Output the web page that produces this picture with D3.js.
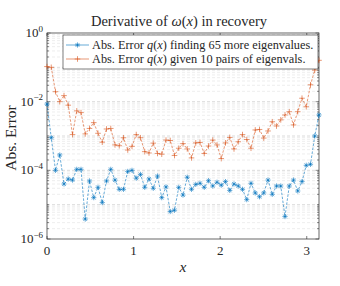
<!DOCTYPE html>
<html>
<head>
<meta charset="utf-8">
<script src="https://cdn.jsdelivr.net/npm/d3@7"></script>
<style>
  body { margin: 0; background: #fff; }
  text { font-family: "Liberation Serif", "DejaVu Serif", serif; fill: #262626; }
</style>
</head>
<body>
<div id="graph"></div>
<script>
// error of q(x) after finding 65 more eigenvalues (65 points on [0, pi])
const errFound = [
  8.5e-3, 8.9e-4, 1.0e-4, 2.8e-4, 4.0e-5, 5.6e-5, 5.2e-5, 1.07e-4, 1.07e-4, 3.8e-6,
  4.9e-5, 1.6e-5, 3.2e-5, 1.15e-5, 4.9e-5, 1.07e-4, 5.2e-5, 2.8e-5, 2.8e-5, 9.3e-5,
  1.0e-4, 5.9e-5, 7.6e-5, 3.2e-5, 5.6e-5, 3.0e-5, 6.8e-5, 1.6e-5, 3.3e-5, 6.3e-6,
  6.9e-6, 3.2e-5, 1.9e-5, 6.3e-5, 2.8e-5, 3.9e-5, 4.2e-5, 3.2e-5, 5.0e-5, 3.5e-5,
  4.5e-5, 3.7e-5, 4.7e-5, 2.6e-5, 4.0e-5, 3.5e-5, 2.8e-5, 1.4e-5, 4.2e-5, 2.2e-5,
  1.7e-5, 2.2e-5, 5.2e-5, 2.0e-5, 3.5e-5, 3.5e-5, 4.5e-6, 3.5e-5, 5.2e-5, 2.5e-5,
  4.7e-5, 1.4e-4, 1.5e-4, 1.0e-3, 4.1e-3
];

// error of q(x) given 10 pairs of eigenvalues
const errGiven = [
  1.05e-1, 1.0e-1, 1.95e-2, 1.0e-2, 1.5e-2, 7.9e-3, 1.1e-3, 5.4e-3, 4.8e-3, 1.15e-3,
  1.66e-3, 2.45e-3, 1.2e-3, 6.6e-4, 1.6e-3, 1.66e-3, 5.5e-4, 5.2e-4, 8.9e-4, 3.9e-4,
  5.0e-4, 1.1e-3, 8.9e-4, 3.5e-4, 3.2e-4, 6.2e-4, 3.1e-4, 2.95e-4, 7.6e-4, 7.4e-4,
  2.7e-4, 4.4e-4, 6.0e-4, 4.2e-4, 2.3e-4, 6.3e-4, 6.5e-4, 3.1e-4, 5.1e-4, 7.6e-4,
  5.5e-4, 2.2e-4, 6.3e-4, 9.1e-4, 4.2e-4, 6.8e-4, 1.1e-3, 7.9e-4, 4.4e-4, 1.5e-3,
  1.55e-3, 8.7e-4, 1.4e-3, 2.6e-3, 1.95e-3, 2.95e-3, 4.1e-3, 5.1e-3, 2.1e-3, 5.1e-3,
  1.26e-2, 7.1e-3, 3.1e-2, 8.3e-2, 1.6e-1
];

const xTicks = [0, 1, 2, 3];
const yTickExps = [0, -2, -4, -6];
const seriesNames = [
  "finding 65 more eigenvalues.",
  "given 10 pairs of eigenvals."
];
const seriesColors = ["#0072BD", "#D95319"];

const W = 340, H = 286;
const margin = { top: 33, right: 21, bottom: 47, left: 47 };
const width = W - margin.left - margin.right;
const height = H - margin.top - margin.bottom;

//setup and return svg
function setupSVG() {
  return d3
    .select("#graph")
    .append("svg")
    .attr("width", W)
    .attr("height", H)
    .append("g")
    .attr("transform", "translate(" + margin.left + "," + margin.top + ")");
}

function starPath(r) {
  const k = r * 0.72;
  return "M" + -r + ",0H" + r + "M0," + -r + "V" + r +
    "M" + -k + "," + -k + "L" + k + "," + k + "M" + -k + "," + k + "L" + k + "," + -k;
}
function plusPath(r) {
  return "M" + -r + ",0H" + r + "M0," + -r + "V" + r;
}

//grid lines, box, ticks and labels
function addAxes(svg, x, y) {
  const minors = [];
  for (let e = -6; e < 0; e++) {
    for (let m = 1; m < 10; m++) minors.push(m * Math.pow(10, e));
  }
  minors.push(1);

  svg
    .append("g")
    .selectAll("line")
    .data(minors.filter((v) => v > 1e-6 && v < 1))
    .enter()
    .append("line")
    .attr("x1", 0)
    .attr("x2", width)
    .attr("y1", (d) => y(d))
    .attr("y2", (d) => y(d))
    .attr("stroke", function (d) {
      const lg = Math.log10(d);
      return Math.abs(lg - Math.round(lg)) < 1e-9 ? "#c4c4c4" : "#e2e2e2";
    })
    .attr("stroke-width", 0.6)
    .attr("stroke-dasharray", "3,2");

  // box
  svg
    .append("rect")
    .attr("width", width)
    .attr("height", height)
    .attr("fill", "none")
    .attr("stroke", "#262626")
    .attr("stroke-width", 0.7);

  // x ticks (bottom and top, inward)
  const xt = svg.append("g");
  xTicks.forEach(function (t) {
    xt.append("line").attr("x1", x(t)).attr("x2", x(t)).attr("y1", height).attr("y2", height - 3)
      .attr("stroke", "#262626").attr("stroke-width", 0.6);
    xt.append("line").attr("x1", x(t)).attr("x2", x(t)).attr("y1", 0).attr("y2", 3)
      .attr("stroke", "#262626").attr("stroke-width", 0.6);
    xt.append("text").attr("x", x(t)).attr("y", height + 16)
      .attr("text-anchor", "middle").style("font-size", "13px").text(t);
  });

  // y ticks: minor on every value, major at labeled decades
  const yt = svg.append("g");
  minors.forEach(function (v) {
    const lg = Math.log10(v);
    const isMajor = Math.abs(lg - Math.round(lg)) < 1e-9 && Math.round(lg) % 2 === 0;
    const len = isMajor ? 3.5 : 2;
    yt.append("line").attr("x1", 0).attr("x2", len).attr("y1", y(v)).attr("y2", y(v))
      .attr("stroke", "#262626").attr("stroke-width", 0.5);
    yt.append("line").attr("x1", width).attr("x2", width - len).attr("y1", y(v)).attr("y2", y(v))
      .attr("stroke", "#262626").attr("stroke-width", 0.5);
  });
  yTickExps.forEach(function (e) {
    const t = yt.append("text")
      .attr("x", -4)
      .attr("y", y(Math.pow(10, e)) + 4)
      .attr("text-anchor", "end")
      .style("font-size", "13px");
    t.append("tspan").text("10");
    t.append("tspan").attr("dy", -5.5).style("font-size", "9px").text(e === 0 ? "0" : "\u2212" + -e);
  });

  // axis labels
  svg.append("text")
    .attr("x", width / 2)
    .attr("y", height + 33)
    .attr("text-anchor", "middle")
    .style("font-size", "15.5px")
    .style("font-style", "italic")
    .text("x");

  svg.append("text")
    .attr("transform", "translate(" + -31 + "," + (height / 2 + 2) + ") rotate(-90)")
    .attr("text-anchor", "middle")
    .style("font-size", "15.5px")
    .text("Abs. Error");

  const title = svg.append("text")
    .attr("x", width / 2 - 4)
    .attr("y", -7)
    .attr("text-anchor", "middle")
    .style("font-size", "14.5px");
  title.append("tspan").text("Derivative of ");
  title.append("tspan").style("font-style", "italic").text("\u03c9");
  title.append("tspan").text("(");
  title.append("tspan").style("font-style", "italic").text("x");
  title.append("tspan").text(") in recovery");
}

//draw one dashed series with markers
function addSeries(svg, values, color, marker, x, y) {
  const xs = values.map((v, i) => (i * Math.PI) / (values.length - 1));
  const line = d3
    .line()
    .x((d, i) => x(xs[i]))
    .y((d) => y(d));

  svg
    .append("path")
    .datum(values)
    .attr("d", line)
    .attr("fill", "none")
    .attr("stroke", color)
    .attr("stroke-width", 0.6)
    .attr("stroke-dasharray", "2.5,1.5");

  svg
    .append("g")
    .selectAll("path")
    .data(values)
    .enter()
    .append("path")
    .attr("transform", function (d, i) {
      return "translate(" + x(xs[i]) + "," + y(d) + ")";
    })
    .attr("d", marker)
    .attr("fill", "none")
    .attr("stroke", color)
    .attr("stroke-width", 0.6);
}

function addLegend(svg) {
  const lx = 16, ly = 2, lw = 255, lh = 34;
  const g = svg.append("g").attr("transform", "translate(" + lx + "," + ly + ")");
  g.append("rect")
    .attr("width", lw)
    .attr("height", lh)
    .attr("fill", "#fff")
    .attr("stroke", "#262626")
    .attr("stroke-width", 0.6);

  const markers = [starPath(2.6), plusPath(2.8)];
  seriesNames.forEach(function (name, i) {
    const cy = 10 + i * 14;
    g.append("line").attr("x1", 3).attr("x2", 26).attr("y1", cy).attr("y2", cy)
      .attr("stroke", seriesColors[i]).attr("stroke-width", 0.6);
    g.append("path").attr("transform", "translate(14.5," + cy + ")").attr("d", markers[i])
      .attr("fill", "none").attr("stroke", seriesColors[i]).attr("stroke-width", 0.6);
    const t = g.append("text").attr("x", 29).attr("y", cy + 4).style("font-size", "12.3px");
    t.append("tspan").text("Abs. Error ");
    t.append("tspan").style("font-style", "italic").text("q");
    t.append("tspan").text("(");
    t.append("tspan").style("font-style", "italic").text("x");
    t.append("tspan").text(") " + name);
  });
}

const svg = setupSVG();
const x = d3.scaleLinear().domain([0, Math.PI]).range([0, width]);
const y = d3.scaleLog().domain([1e-6, 1]).range([height, 0]);

addAxes(svg, x, y);
addSeries(svg, errFound, seriesColors[0], starPath(2.6), x, y);
addSeries(svg, errGiven, seriesColors[1], plusPath(2.8), x, y);
addLegend(svg);
</script>
</body>
</html>
